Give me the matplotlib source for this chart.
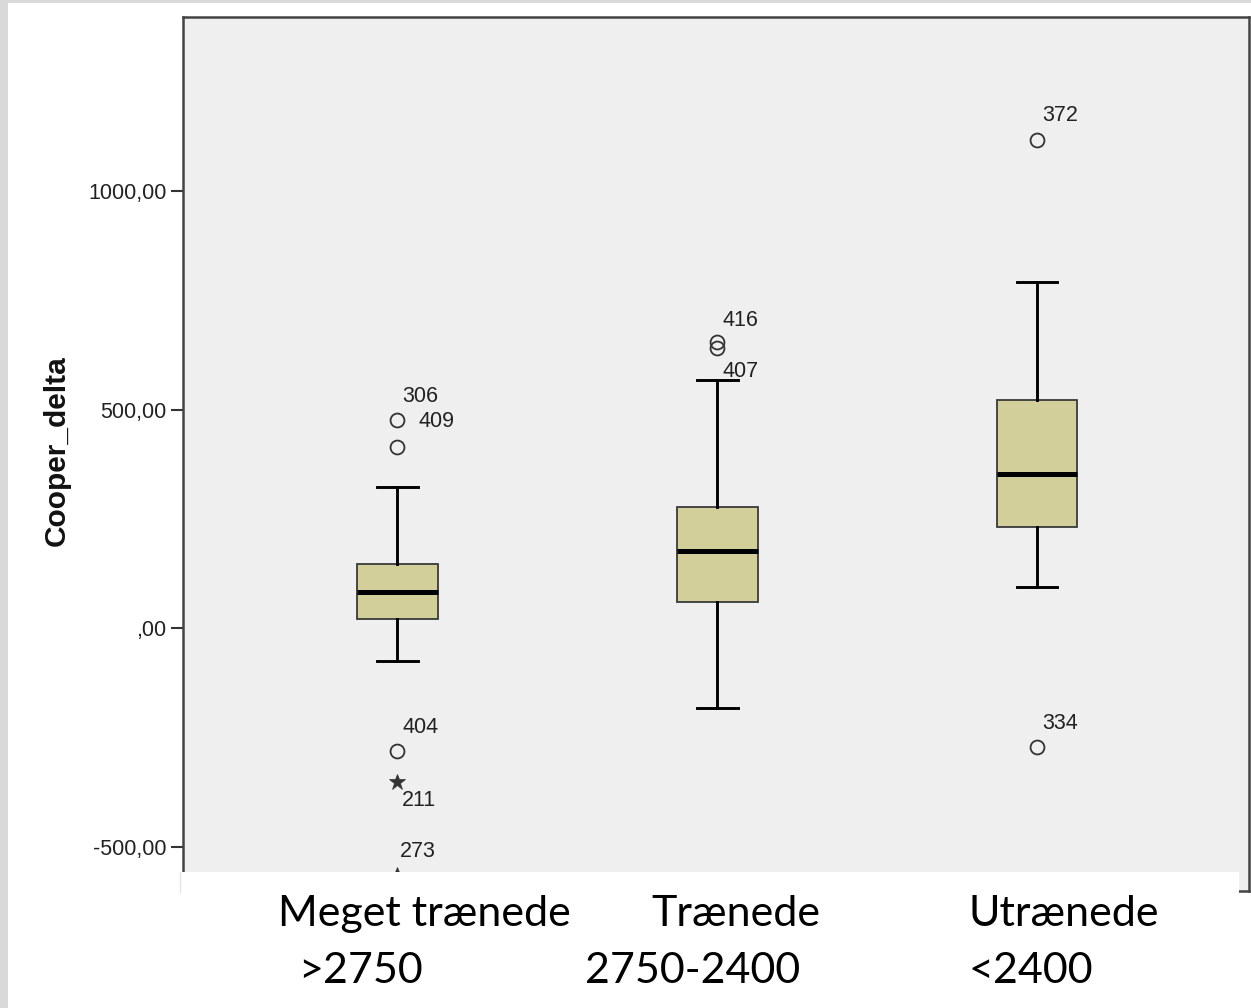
import matplotlib
matplotlib.use("Agg")
import matplotlib.pyplot as plt
from matplotlib.patches import Rectangle
from matplotlib.lines import Line2D

# Cooper test change by training group
groups = ["Meget trænede", "Trænede", "Utrænede"]
group_ranges = [">2750", "2750-2400", "<2400"]

q1 = [21, 59, 231]
median = [82, 176, 352]
q3 = [146, 277, 522]
whisker_low = [-76, -183, 94]
whisker_high = [323, 567, 792]

# outliers (circles) and extreme values (stars) with case numbers
outlier_group = [0, 0, 0, 1, 1, 2, 2]
outlier_value = [476, 414, -281, 654, 641, 1117, -272]
outlier_id = ["306", "409", "404", "416", "407", "372", "334"]

extreme_group = [0, 0]
extreme_value = [-352, -565]
extreme_id = ["211", "273"]

ytick_values = [-500, 0, 500, 1000]
ytick_labels = ["-500,00", ",00", "500,00", "1000,00"]

# label placement relative to each marker, in pixels
outlier_label_offset = [(5, 24), (21, 26), (5, 23), (5, 22), (5, -24), (5, 24), (5, 23)]
extreme_label_offset = [(5, -19), (3, 23)]

W, H = 1251, 1008
fig = plt.figure(figsize=(W / 100, H / 100), dpi=100, facecolor="white")


def fx(px):
    return px / W


def fy(py):
    return 1 - py / H


ax = fig.add_axes([fx(183), fy(891), fx(1249) - fx(183), fy(17) - fy(891)])
ax.set_facecolor("#efefef")
ax.set_xlim(-0.669, 2.6625)
ax.set_ylim(-601.8, 1398.2)

stats = []
for i in range(len(groups)):
    stats.append(dict(med=median[i], q1=q1[i], q3=q3[i],
                      whislo=whisker_low[i], whishi=whisker_high[i], fliers=[]))

ax.bxp(stats, positions=range(len(groups)), widths=0.253, capwidths=0.128,
       patch_artist=True, showfliers=False,
       boxprops=dict(facecolor="#d3cf9b", edgecolor="#3a3a3a", linewidth=1.3),
       medianprops=dict(color="black", linewidth=3.6, solid_capstyle="butt"),
       whiskerprops=dict(color="black", linewidth=2.1),
       capprops=dict(color="black", linewidth=2.1))

label_font = dict(family="Liberation Sans", fontsize=15.5, color="#222222")

ax.plot(outlier_group, outlier_value, linestyle="none", marker="o",
        markersize=10, markerfacecolor="none", markeredgecolor="#333333",
        markeredgewidth=1.3, zorder=4)
ax.plot(extreme_group, extreme_value, linestyle="none", marker="*",
        markersize=12, markerfacecolor="#333333", markeredgecolor="#333333",
        markeredgewidth=0.5, zorder=4)

for g, v, t, off in zip(outlier_group, outlier_value, outlier_id, outlier_label_offset):
    ax.annotate(t, xy=(g, v), xytext=off, textcoords="offset pixels",
                ha="left", va="center", **label_font)
for g, v, t, off in zip(extreme_group, extreme_value, extreme_id, extreme_label_offset):
    ax.annotate(t, xy=(g, v), xytext=off, textcoords="offset pixels",
                ha="left", va="center", **label_font)

ax.set_xticks([])
ax.set_yticks(ytick_values)
ax.set_yticklabels(ytick_labels, **label_font)
ax.tick_params(axis="y", direction="out", length=9, width=1.5, color="#333333", pad=3)
for side in ["left", "top", "right", "bottom"]:
    ax.spines[side].set_color("#444444")
    ax.spines[side].set_linewidth(1.8)

fig.text(fx(57), fy(451), "Cooper_delta", rotation=90, ha="center", va="center",
         family="Liberation Sans", fontweight="bold", fontsize=21.5, color="#111111")

# frame strips and the white panel holding the group names
fig.add_artist(Rectangle((0, 0), fx(8), 1, transform=fig.transFigure,
                         facecolor="#d9d9d9", edgecolor="none", zorder=5))
fig.add_artist(Rectangle((0, fy(3)), 1, fy(0) - fy(3), transform=fig.transFigure,
                         facecolor="#d9d9d9", edgecolor="none", zorder=5))
fig.add_artist(Rectangle((fx(180), 0), fx(1239) - fx(180), fy(872), transform=fig.transFigure,
                         facecolor="white", edgecolor="none", zorder=5))
fig.add_artist(Line2D([fx(180), fx(180)], [fy(872), fy(892)], transform=fig.transFigure,
                      color="#e4e4e4", linewidth=1, zorder=6))

name_x = [278, 651, 969]
range_x = [298, 585, 969]
cat_font = dict(family="Lato", fontsize=31, color="black", zorder=7)
for name, rng, nx, rx in zip(groups, group_ranges, name_x, range_x):
    fig.text(fx(nx), fy(914), name, ha="left", va="center", **cat_font)
    fig.text(fx(rx), fy(971), rng, ha="left", va="center", **cat_font)

fig.savefig("out.png", dpi=100, facecolor="white")
